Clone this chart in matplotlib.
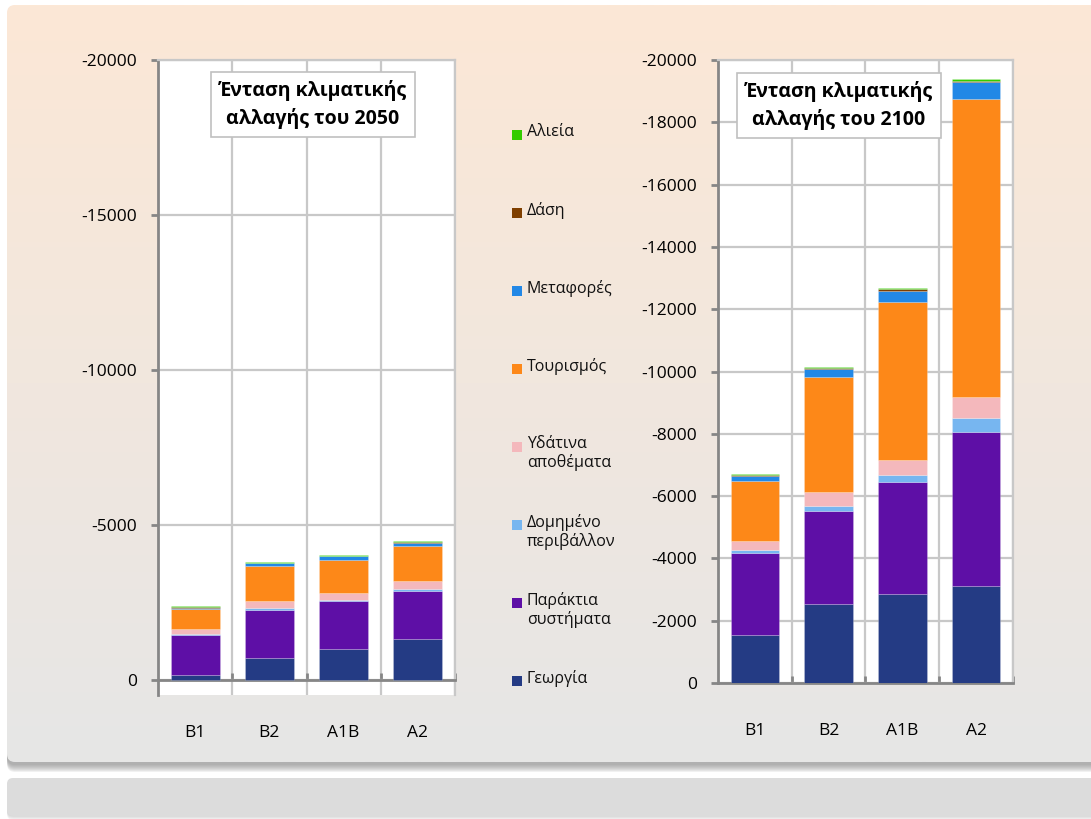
import numpy as np
import matplotlib
matplotlib.use("Agg")
import matplotlib.pyplot as plt
from matplotlib.patches import FancyBboxPatch, Rectangle

plt.rcParams['font.family'] = ['Open Sans', 'DejaVu Sans']
plt.rcParams['axes.unicode_minus'] = False

scenarios = ['B1', 'B2', 'A1B', 'A2']

# sectors, bottom to top of each stack
sectors = ['Γεωργία', 'Παράκτια\nσυστήματα', 'Δομημένο\nπεριβάλλον',
           'Υδάτινα\nαποθέματα', 'Τουρισμός', 'Μεταφορές', 'Δάση', 'Αλιεία']
colors = ['#243b84', '#5e0fa6', '#77b6f0', '#f4b8bc',
          '#fd8818', '#2288e6', '#7f3f00', '#33cc00']

# cost per sector (shown as negative), rows follow sectors, columns scenarios
cost_2050 = [
    [180, 700, 990, 1330],
    [1280, 1570, 1550, 1560],
    [20, 60, 60, 50],
    [170, 220, 210, 250],
    [630, 1130, 1080, 1150],
    [60, 90, 100, 80],
    [25, 15, 25, 30],
    [25, 15, 25, 30],
]
cost_2100 = [
    [1540, 2530, 2850, 3100],
    [2640, 3000, 3610, 4950],
    [80, 160, 220, 470],
    [310, 430, 480, 660],
    [1905, 3690, 5080, 9560],
    [170, 270, 350, 540],
    [35, 40, 50, 60],
    [30, 30, 30, 40],
]

titles = ['Ένταση κλιματικής\nαλλαγής του 2050', 'Ένταση κλιματικής\nαλλαγής του 2100']

W, H = 1091, 819
fig = plt.figure(figsize=(W / 100, H / 100), dpi=100)
fig.patch.set_facecolor('white')

# background panel with gradient
bg = fig.add_axes([0, 0, 1, 1], zorder=-10)
bg.set_xlim(0, W)
bg.set_ylim(H, 0)
bg.axis('off')
for k in range(8):
    bg.add_patch(FancyBboxPatch((7, 10 + k), W + 20, 755, boxstyle='round,pad=0,rounding_size=8',
                                fc='#7a7a7a', ec='none', alpha=0.10))
panel = FancyBboxPatch((7, 5), W + 20, 757, boxstyle='round,pad=0,rounding_size=8',
                       fc='none', ec='none')
bg.add_patch(panel)
top_c = np.array([252, 232, 214]) / 255
bot_c = np.array([230, 230, 230]) / 255
t = np.linspace(0, 1, 256)[:, None]
grad = top_c[None, :] * (1 - t) + bot_c[None, :] * t
img = bg.imshow(grad[:, None, :], extent=[7, W + 20, 762, 5], aspect='auto', zorder=1)
img.set_clip_path(panel)
for k in range(5):
    bg.add_patch(FancyBboxPatch((7, 780 + k), W + 20, 36, boxstyle='round,pad=0,rounding_size=6',
                                fc='#8a8a8a', ec='none', alpha=0.08))
bg.add_patch(FancyBboxPatch((7, 778), W + 20, 38, boxstyle='round,pad=0,rounding_size=6',
                            fc='#dcdcdc', ec='none', zorder=2))


def draw(ax, data, ymin, step, title, title_xy, xpad):
    x = np.arange(len(scenarios))
    bottom = np.zeros(len(scenarios))
    for vals, c in zip(data, colors):
        v = -np.array(vals, dtype=float)
        ax.bar(x, v, 0.66, bottom=bottom, color=c, edgecolor=(1, 1, 1, 0.35),
               linewidth=0.4, zorder=3)
        bottom += v
    ax.set_xlim(-0.5, len(scenarios) - 0.5)
    ax.set_ylim(ymin, -20000)
    ax.set_yticks(np.arange(0, -20001, -step))
    ax.set_xticks(x)
    ax.set_xticklabels(scenarios)
    ax.set_xticks(np.arange(len(scenarios)) + 0.5, minor=True)
    ax.grid(True, which='major', axis='y', color='#c8c8c8', lw=1.6, zorder=0)
    ax.grid(True, which='minor', axis='x', color='#c8c8c8', lw=1.6, zorder=0)
    ax.spines['bottom'].set_position(('data', 0))
    ax.spines['bottom'].set_color('#868686')
    ax.spines['bottom'].set_linewidth(2)
    ax.spines['left'].set_color('#868686')
    ax.spines['left'].set_linewidth(2)
    ax.spines['top'].set_color('#c8c8c8')
    ax.spines['top'].set_linewidth(1.6)
    ax.spines['right'].set_color('#c8c8c8')
    ax.spines['right'].set_linewidth(1.6)
    ax.tick_params(axis='x', which='major', length=0, pad=xpad, labelsize=12.5)
    ax.tick_params(axis='x', which='minor', direction='in', length=5, width=2, color='#868686')
    ax.tick_params(axis='y', length=5, width=2, color='#868686', labelsize=12.5, pad=10)
    ax.text(title_xy[0], title_xy[1], title, transform=ax.transAxes, ha='center', va='center',
            fontsize=14, fontweight='bold', linespacing=1.45, zorder=5,
            bbox=dict(boxstyle='square,pad=0.4', fc='white', ec='#c0c0c0', lw=1.2))


ax1 = fig.add_axes([158 / W, 1 - 695 / H, 297 / W, 635 / H])
draw(ax1, cost_2050, 480, 5000, titles[0], (0.522, 0.93), 32)
ax2 = fig.add_axes([718 / W, 1 - 683 / H, 295 / W, 623 / H])
draw(ax2, cost_2100, 0, 2000, titles[1], (0.41, 0.927), 29)

# legend, top entry first
for i, (name, c) in enumerate(zip(sectors[::-1], colors[::-1])):
    yc = 135 + 78 * i
    fig.patches.append(Rectangle((512 / W, 1 - (yc + 5) / H), 10 / W, 10 / H,
                                 transform=fig.transFigure, fc=c, ec='none'))
    fig.text(527 / W, 1 - (yc - 11) / H, name, ha='left', va='top', fontsize=11.5,
             linespacing=1.15, color='#111111')

fig.savefig('out.png', dpi=100)
